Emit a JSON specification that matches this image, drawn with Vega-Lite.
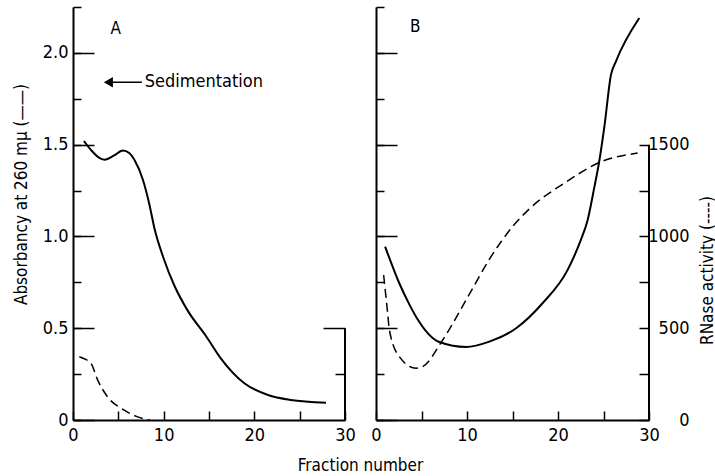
{
  "$schema": "https://vega.github.io/schema/vega-lite/v6.json",
  "padding": {"left": 12, "top": -2, "right": 0, "bottom": 0},
  "spacing": 31,
  "bounds": "flush",
  "datasets": {
    "a_abs": [
      {"fraction": 1.2, "absorbance": 1.52},
      {"fraction": 2.0, "absorbance": 1.47},
      {"fraction": 3.0, "absorbance": 1.425},
      {"fraction": 3.5, "absorbance": 1.418},
      {"fraction": 4.5, "absorbance": 1.44},
      {"fraction": 5.5, "absorbance": 1.468},
      {"fraction": 6.2, "absorbance": 1.455},
      {"fraction": 6.8, "absorbance": 1.415},
      {"fraction": 7.7, "absorbance": 1.31},
      {"fraction": 8.4, "absorbance": 1.18},
      {"fraction": 9.0, "absorbance": 1.04},
      {"fraction": 10.0, "absorbance": 0.88},
      {"fraction": 11.2, "absorbance": 0.73},
      {"fraction": 12.6, "absorbance": 0.6},
      {"fraction": 14.7, "absorbance": 0.455},
      {"fraction": 16.3, "absorbance": 0.336},
      {"fraction": 18.9, "absorbance": 0.2},
      {"fraction": 21.5, "absorbance": 0.136},
      {"fraction": 24.0, "absorbance": 0.109},
      {"fraction": 27.9, "absorbance": 0.094}
    ],
    "a_rnase": [
      {"fraction": 0.7, "rnase": 345},
      {"fraction": 1.4, "rnase": 330},
      {"fraction": 2.0, "rnase": 308},
      {"fraction": 2.7, "rnase": 220},
      {"fraction": 3.8, "rnase": 127},
      {"fraction": 5.6, "rnase": 55},
      {"fraction": 7.0, "rnase": 20},
      {"fraction": 7.9, "rnase": 5},
      {"fraction": 8.5, "rnase": 0}
    ],
    "b_abs": [
      {"fraction": 1.0, "absorbance": 0.945},
      {"fraction": 2.56, "absorbance": 0.745},
      {"fraction": 3.66, "absorbance": 0.63},
      {"fraction": 4.4, "absorbance": 0.563},
      {"fraction": 6.96, "absorbance": 0.425},
      {"fraction": 9.9, "absorbance": 0.398},
      {"fraction": 12.45, "absorbance": 0.427},
      {"fraction": 15.4, "absorbance": 0.5},
      {"fraction": 18.3, "absorbance": 0.636},
      {"fraction": 21.06, "absorbance": 0.818},
      {"fraction": 22.5, "absorbance": 0.98},
      {"fraction": 23.26, "absorbance": 1.09},
      {"fraction": 24.0, "absorbance": 1.27},
      {"fraction": 24.5, "absorbance": 1.4},
      {"fraction": 25.1, "absorbance": 1.6},
      {"fraction": 25.82, "absorbance": 1.88},
      {"fraction": 26.37, "absorbance": 1.954},
      {"fraction": 28.93, "absorbance": 2.19}
    ],
    "b_rnase": [
      {"fraction": 0.84, "rnase": 790},
      {"fraction": 1.28, "rnase": 582},
      {"fraction": 1.47, "rnase": 491},
      {"fraction": 2.56, "rnase": 345},
      {"fraction": 4.4, "rnase": 282},
      {"fraction": 5.13, "rnase": 291},
      {"fraction": 7.33, "rnase": 436},
      {"fraction": 10.2, "rnase": 680},
      {"fraction": 12.45, "rnase": 875},
      {"fraction": 13.8, "rnase": 975},
      {"fraction": 15.2, "rnase": 1065},
      {"fraction": 16.85, "rnase": 1150},
      {"fraction": 21.0, "rnase": 1300},
      {"fraction": 24.4, "rnase": 1400},
      {"fraction": 28.75, "rnase": 1454}
    ]
  },
  "hconcat": [
    {
      "width": 272,
      "height": 413,
      "layer": [
        {
          "data": {"name": "a_abs"},
          "mark": {"type": "line", "color": "black", "strokeWidth": 2, "interpolate": "monotone"},
          "encoding": {
            "x": {
              "field": "fraction", "type": "quantitative",
              "scale": {"domain": [0, 30], "nice": false},
              "axis": {
                "values": [0, 5, 10, 15, 20, 25, 30],
                "labelExpr": "datum.value % 10 == 0 ? datum.label : ''",
                "tickSize": -9,
                "labelPadding": 15,
                "title": "Fraction number",
                "titleX": 287, "titleY": 45,
                "titleBaseline": "middle", "titleAlign": "center"
              }
            },
            "y": {
              "field": "absorbance", "type": "quantitative",
              "scale": {"domain": [0, 2.25], "nice": false},
              "axis": {
                "values": [0, 0.25, 0.5, 0.75, 1, 1.25, 1.5, 1.75, 2, 2.25],
                "labelExpr": "datum.value % 0.5 == 0 ? (datum.value == 0 ? '0' : format(datum.value, '.1f')) : ''",
                "tickSize": -8,
                "labelPadding": 13,
                "title": "Absorbancy at 260 mμ (——)",
                "titleX": -52, "titleY": 187, "titleAngle": 270,
                "titleBaseline": "middle", "titleAlign": "center"
              }
            }
          }
        },
        {
          "data": {"name": "a_rnase"},
          "mark": {"type": "line", "color": "black", "strokeWidth": 1.5, "strokeDash": [9, 5], "interpolate": "monotone"},
          "encoding": {
            "x": {"field": "fraction", "type": "quantitative", "scale": {"domain": [0, 30], "nice": false}},
            "y": {
              "field": "rnase", "type": "quantitative",
              "scale": {"domain": [0, 2250], "nice": false},
              "axis": {
                "orient": "right",
                "values": [250],
                "labels": false,
                "domain": false,
                "tickSize": -10,
                "title": null
              }
            }
          }
        },
        {
          "data": {"values": [{}]},
          "mark": {"type": "rule", "color": "black", "strokeWidth": 2},
          "encoding": {
            "x": {"datum": 30, "type": "quantitative", "scale": {"domain": [0, 30], "nice": false}},
            "y": {"datum": 0, "type": "quantitative", "scale": {"domain": [0, 2250], "nice": false},
              "axis": {"orient": "right", "values": [500], "labels": false, "domain": false, "tickSize": -22, "title": null}},
            "y2": {"datum": 500}
          }
        },
        {
          "data": {"values": [{}]},
          "mark": {"type": "text", "fontSize": 17, "align": "center", "baseline": "middle", "color": "black"},
          "encoding": {
            "x": {"datum": 4.7, "type": "quantitative", "scale": {"domain": [0, 30], "nice": false}},
            "y": {"datum": 2.13, "type": "quantitative", "scale": {"domain": [0, 2.25], "nice": false},
              "axis": {"orient": "left", "values": [0, 0.5, 1, 1.5, 2], "labels": false, "domain": false, "tickSize": -21, "title": null}},
            "text": {"value": "A"}
          }
        },
        {
          "data": {"values": [{}]},
          "mark": {"type": "text", "fontSize": 18, "align": "left", "baseline": "middle", "color": "black"},
          "encoding": {
            "x": {"datum": 7.9, "type": "quantitative", "scale": {"domain": [0, 30], "nice": false}},
            "y": {"datum": 1.84, "type": "quantitative", "scale": {"domain": [0, 2.25], "nice": false}, "axis": null},
            "text": {"value": "Sedimentation"}
          }
        },
        {
          "data": {"values": [{}]},
          "mark": {"type": "rule", "color": "black", "strokeWidth": 1.5},
          "encoding": {
            "x": {"datum": 3.7, "type": "quantitative", "scale": {"domain": [0, 30], "nice": false}},
            "x2": {"datum": 7.6},
            "y": {"datum": 1.84, "type": "quantitative", "scale": {"domain": [0, 2.25], "nice": false}, "axis": null}
          }
        },
        {
          "data": {"values": [{}]},
          "mark": {"type": "point", "shape": "triangle-left", "filled": true, "color": "black", "size": 110, "opacity": 1},
          "encoding": {
            "x": {"datum": 3.9, "type": "quantitative", "scale": {"domain": [0, 30], "nice": false}},
            "y": {"datum": 1.84, "type": "quantitative", "scale": {"domain": [0, 2.25], "nice": false}, "axis": null}
          }
        }
      ],
      "resolve": {"scale": {"y": "independent"}, "axis": {"y": "independent"}}
    },
    {
      "width": 273,
      "height": 413,
      "layer": [
        {
          "data": {"name": "b_abs"},
          "mark": {"type": "line", "color": "black", "strokeWidth": 2, "interpolate": "monotone"},
          "encoding": {
            "x": {
              "field": "fraction", "type": "quantitative",
              "scale": {"domain": [0, 30], "nice": false},
              "axis": {
                "values": [0, 5, 10, 15, 20, 25, 30],
                "labelExpr": "datum.value % 10 == 0 ? datum.label : ''",
                "tickSize": -9,
                "labelPadding": 15,
                "title": null
              }
            },
            "y": {
              "field": "absorbance", "type": "quantitative",
              "scale": {"domain": [0, 2.25], "nice": false},
              "axis": {
                "values": [0, 0.25, 0.5, 0.75, 1, 1.25, 1.5, 1.75, 2, 2.25],
                "labels": false,
                "tickSize": -8,
                "title": null
              }
            }
          }
        },
        {
          "data": {"name": "b_rnase"},
          "mark": {"type": "line", "color": "black", "strokeWidth": 1.5, "strokeDash": [9, 5], "interpolate": "monotone"},
          "encoding": {
            "x": {"field": "fraction", "type": "quantitative", "scale": {"domain": [0, 30], "nice": false}},
            "y": {
              "field": "rnase", "type": "quantitative",
              "scale": {"domain": [0, 2250], "nice": false},
              "axis": {
                "orient": "right",
                "values": [0, 250, 500, 750, 1000, 1250, 1500],
                "format": "d",
                "labelExpr": "datum.value % 500 == 0 ? datum.label : ''",
                "labelAlign": "right",
                "labelPadding": 50,
                "domain": false,
                "tickSize": -10,
                "title": "RNase activity (----)",
                "titleX": 58, "titleY": 263, "titleAngle": 270,
                "titleBaseline": "middle", "titleAlign": "center"
              }
            }
          }
        },
        {
          "data": {"values": [{}]},
          "mark": {"type": "rule", "color": "black", "strokeWidth": 2},
          "encoding": {
            "x": {"datum": 30, "type": "quantitative", "scale": {"domain": [0, 30], "nice": false}},
            "y": {"datum": 0, "type": "quantitative", "scale": {"domain": [0, 2250], "nice": false}, "axis": null},
            "y2": {"datum": 1500}
          }
        },
        {
          "data": {"values": [{}]},
          "mark": {"type": "text", "fontSize": 17, "align": "center", "baseline": "middle", "color": "black"},
          "encoding": {
            "x": {"datum": 4.3, "type": "quantitative", "scale": {"domain": [0, 30], "nice": false}},
            "y": {"datum": 2.14, "type": "quantitative", "scale": {"domain": [0, 2.25], "nice": false},
              "axis": {"orient": "left", "values": [0, 0.5, 1, 1.5, 2], "labels": false, "domain": false, "tickSize": -21, "title": null}},
            "text": {"value": "B"}
          }
        }
      ],
      "resolve": {"scale": {"y": "independent"}, "axis": {"y": "independent"}}
    }
  ],
  "config": {
    "view": {"stroke": null},
    "font": "Liberation Sans Narrow, DejaVu Sans Condensed, sans-serif",
    "text": {"font": "Liberation Sans Narrow, DejaVu Sans Condensed, sans-serif"},
    "axis": {
      "domainColor": "black",
      "domainWidth": 2,
      "tickColor": "black",
      "tickWidth": 1.5,
      "labelColor": "black",
      "titleColor": "black",
      "labelFont": "Liberation Sans Narrow, DejaVu Sans Condensed, sans-serif",
      "titleFont": "Liberation Sans Narrow, DejaVu Sans Condensed, sans-serif",
      "labelFontSize": 18,
      "titleFontSize": 17,
      "titleFontWeight": "normal",
      "grid": false,
      "labelFlush": false,
      "labelOverlap": false,
      "labelBound": false
    }
  }
}
